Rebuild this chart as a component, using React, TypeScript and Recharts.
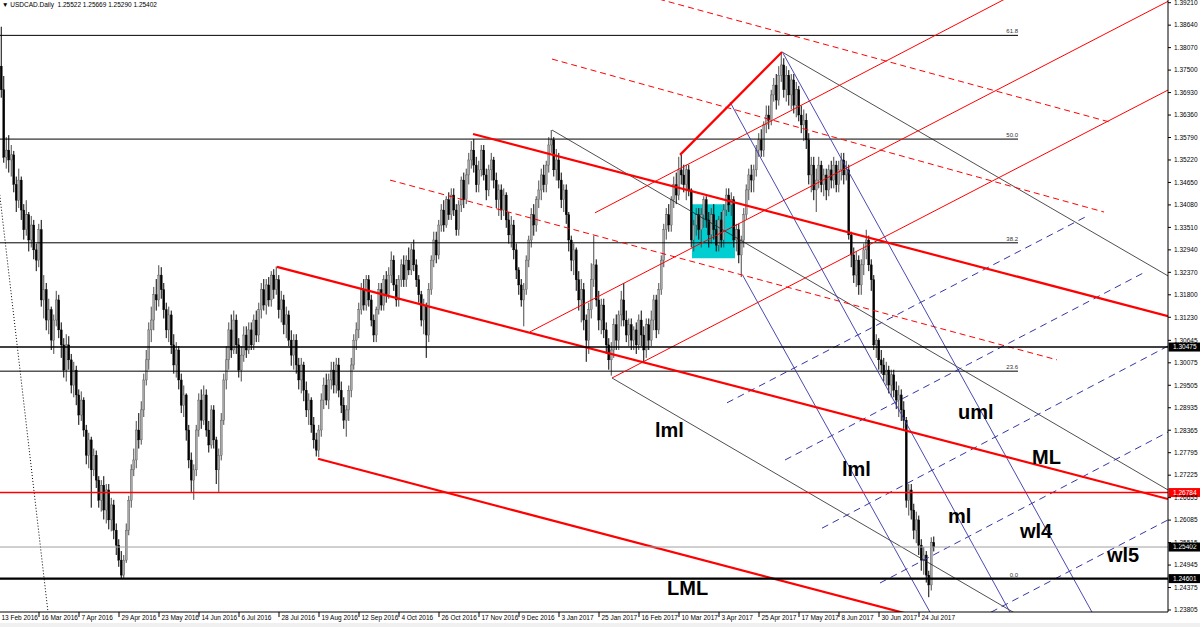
import React from "react";
import {
  ComposedChart,
  Bar,
  XAxis,
  YAxis,
  ReferenceLine,
  ReferenceArea,
  ReferenceDot,
} from "recharts";

// USDCAD daily candles (open = previous close)
const FIRST_OPEN = 1.379;

const closes = [
  1.376, 1.37, 1.3529, 1.3547, 1.3522, 1.3535, 1.346, 1.342, 1.3471, 1.3395,
  1.3345, 1.3383, 1.3319, 1.3357, 1.3294, 1.3268, 1.3345, 1.3167, 1.3193, 1.3116,
  1.3142, 1.3065, 1.3116, 1.3167, 1.3091, 1.3053, 1.2989, 1.3053, 1.3015, 1.2951,
  1.2989, 1.2926, 1.2875, 1.2913, 1.2837, 1.2773, 1.2812, 1.2736, 1.2773, 1.271,
  1.2659, 1.2697, 1.2634, 1.2685, 1.2609, 1.2647, 1.2583, 1.2545, 1.2507, 1.2469,
  1.2507, 1.2583, 1.2659, 1.2736, 1.2761, 1.2837, 1.2812, 1.2888, 1.2964, 1.3015,
  1.3091, 1.3116, 1.318, 1.3167, 1.323, 1.3193, 1.3142, 1.3091, 1.3129, 1.3053,
  1.3002, 1.304, 1.2964, 1.29, 1.2926, 1.2837, 1.2761, 1.271, 1.2736, 1.2837,
  1.2913, 1.2862, 1.2926, 1.2837, 1.2799, 1.2888, 1.2812, 1.2736, 1.2773, 1.2862,
  1.2964, 1.3015, 1.3091, 1.304, 1.3116, 1.3053, 1.2989, 1.3027, 1.3078, 1.304,
  1.3091, 1.3053, 1.3116, 1.3078, 1.3142, 1.3193, 1.3154, 1.3205, 1.3167, 1.323,
  1.3193, 1.3218, 1.3142, 1.3167, 1.3104, 1.3129, 1.3065, 1.3027, 1.3065, 1.3002,
  1.2964, 1.3002, 1.2938, 1.2888, 1.2913, 1.285, 1.2812, 1.2786, 1.2837, 1.2913,
  1.2951, 1.2913, 1.2964, 1.2989, 1.2951, 1.3002, 1.2938, 1.29, 1.2862, 1.2888,
  1.2938, 1.3002, 1.3065, 1.3091, 1.3142, 1.3193, 1.3154, 1.3218, 1.3167, 1.3116,
  1.3078, 1.3142, 1.3193, 1.3154, 1.3218, 1.318, 1.323, 1.3268, 1.3205, 1.3167,
  1.3218, 1.3256, 1.3218, 1.3268, 1.3243, 1.3294, 1.3256, 1.3218, 1.318, 1.3116,
  1.3154, 1.3078, 1.3193, 1.3268, 1.3319, 1.3281, 1.3357, 1.3395, 1.3357, 1.3421,
  1.3383, 1.3433, 1.3395, 1.3345, 1.3408, 1.3471, 1.3421, 1.3484, 1.3522, 1.3547,
  1.3509, 1.3459, 1.3497, 1.3547, 1.3484, 1.3446, 1.3497, 1.3522, 1.3471, 1.3421,
  1.3446, 1.3395, 1.3433, 1.337, 1.3332, 1.3357, 1.3294, 1.3243, 1.3205, 1.3167,
  1.3193, 1.3268, 1.3319, 1.3383, 1.3357, 1.3421, 1.3446, 1.3484, 1.3459, 1.3509,
  1.356, 1.3573, 1.3497, 1.3522, 1.3471, 1.3421, 1.3446, 1.3383, 1.3319, 1.3268,
  1.3294, 1.3218, 1.3167, 1.3193, 1.3116, 1.3065, 1.3142, 1.3218, 1.3256, 1.3167,
  1.3116, 1.3154, 1.3091, 1.3053, 1.3015, 1.304, 1.3104, 1.3065, 1.3129, 1.3167,
  1.3116, 1.3078, 1.3104, 1.3065, 1.3091, 1.3053, 1.3116, 1.3078, 1.304, 1.3104,
  1.3065, 1.3116, 1.3167, 1.3091, 1.3193, 1.3268, 1.3345, 1.3383, 1.3357, 1.3421,
  1.3459, 1.3433, 1.3497, 1.3484, 1.3459, 1.3497, 1.3446, 1.3319, 1.3357, 1.3383,
  1.3345, 1.3383, 1.3421, 1.337, 1.3332, 1.3383, 1.3345, 1.3306, 1.337, 1.3319,
  1.3395, 1.3433, 1.3408, 1.3421, 1.3319, 1.3345, 1.3281, 1.3319, 1.3383, 1.3446,
  1.3484, 1.3471, 1.3497, 1.3547, 1.3573, 1.3547, 1.3611, 1.3636, 1.3623, 1.3687,
  1.3712, 1.3674, 1.3737, 1.3763, 1.37, 1.3737, 1.3687, 1.3725, 1.3661, 1.37,
  1.3636, 1.3611, 1.3623, 1.3573, 1.3484, 1.3509, 1.3446, 1.3471, 1.3509, 1.3459,
  1.3484, 1.3446, 1.3497, 1.3471, 1.3509, 1.3459, 1.3497, 1.3522, 1.3484, 1.3497,
  1.3332, 1.3281, 1.323, 1.3268, 1.3205, 1.3256, 1.3294, 1.3319, 1.3256, 1.3218,
  1.3053, 1.3065, 1.3015, 1.3002, 1.2977, 1.2989, 1.2951, 1.2977, 1.2938, 1.2913,
  1.2926, 1.2888, 1.2862, 1.2659, 1.2685, 1.2634, 1.2583, 1.2609, 1.2545, 1.2507,
  1.252, 1.2469, 1.2444, 1.2552, 1.25402,
];

const highs = [
  1.383, 1.386, 1.3735, 1.358, 1.3585, 1.356, 1.3545, 1.348, 1.35, 1.348,
  1.341, 1.342, 1.339, 1.338, 1.337, 1.331, 1.336, 1.337, 1.323, 1.321,
  1.317, 1.315, 1.313, 1.319, 1.318, 1.311, 1.307, 1.308, 1.3075, 1.303,
  1.301, 1.3, 1.294, 1.2935, 1.292, 1.285, 1.283, 1.282, 1.279, 1.2785,
  1.272, 1.271, 1.272, 1.27, 1.27, 1.2665, 1.266, 1.26, 1.256, 1.253,
  1.252, 1.26, 1.267, 1.275, 1.279, 1.286, 1.288, 1.291, 1.298, 1.304,
  1.311, 1.315, 1.32, 1.322, 1.3255, 1.325, 1.321, 1.316, 1.315, 1.314,
  1.308, 1.306, 1.305, 1.298, 1.295, 1.293, 1.285, 1.278, 1.275, 1.285,
  1.293, 1.294, 1.295, 1.294, 1.286, 1.29, 1.29, 1.282, 1.279, 1.288,
  1.298, 1.305, 1.311, 1.313, 1.314, 1.313, 1.307, 1.305, 1.31, 1.31,
  1.311, 1.311, 1.313, 1.314, 1.316, 1.321, 1.322, 1.322, 1.3225, 1.324,
  1.3245, 1.3252, 1.323, 1.319, 1.318, 1.315, 1.314, 1.309, 1.308, 1.308,
  1.302, 1.302, 1.301, 1.296, 1.293, 1.292, 1.287, 1.283, 1.285, 1.293,
  1.297, 1.298, 1.298, 1.301, 1.301, 1.302, 1.302, 1.296, 1.292, 1.29,
  1.295, 1.302, 1.308, 1.311, 1.316, 1.321, 1.322, 1.323, 1.323, 1.318,
  1.313, 1.315, 1.321, 1.321, 1.323, 1.324, 1.325, 1.329, 1.328, 1.322,
  1.323, 1.327, 1.328, 1.328, 1.33, 1.331, 1.332, 1.327, 1.323, 1.319,
  1.317, 1.316, 1.321, 1.328, 1.334, 1.334, 1.337, 1.341, 1.342, 1.343,
  1.344, 1.345, 1.345, 1.341, 1.342, 1.348, 1.349, 1.35, 1.354, 1.357,
  1.3575, 1.353, 1.352, 1.356, 1.356, 1.35, 1.351, 1.354, 1.353, 1.349,
  1.346, 1.346, 1.345, 1.344, 1.339, 1.338, 1.337, 1.331, 1.325, 1.322,
  1.321, 1.328, 1.333, 1.34, 1.341, 1.343, 1.347, 1.35, 1.351, 1.352,
  1.358, 1.3598, 1.358, 1.355, 1.354, 1.349, 1.346, 1.346, 1.339, 1.333,
  1.331, 1.33, 1.324, 1.322, 1.321, 1.313, 1.316, 1.326, 1.333, 1.327,
  1.319, 1.317, 1.317, 1.311, 1.307, 1.306, 1.312, 1.313, 1.314, 1.319,
  1.321, 1.314, 1.312, 1.312, 1.31, 1.311, 1.313, 1.314, 1.31, 1.312,
  1.312, 1.314, 1.318, 1.318, 1.321, 1.328, 1.336, 1.34, 1.341, 1.343,
  1.348, 1.349, 1.353, 1.3535, 1.351, 1.351, 1.351, 1.345, 1.337, 1.34,
  1.34, 1.34, 1.343, 1.343, 1.339, 1.34, 1.341, 1.337, 1.338, 1.339,
  1.341, 1.345, 1.345, 1.344, 1.343, 1.336, 1.336, 1.333, 1.34, 1.346,
  1.35, 1.351, 1.351, 1.356, 1.359, 1.36, 1.362, 1.366, 1.366, 1.37,
  1.373, 1.374, 1.376, 1.3793, 1.378, 1.376, 1.375, 1.374, 1.374, 1.372,
  1.371, 1.366, 1.365, 1.364, 1.359, 1.353, 1.353, 1.35, 1.353, 1.352,
  1.35, 1.35, 1.351, 1.352, 1.353, 1.352, 1.352, 1.354, 1.354, 1.352,
  1.351, 1.334, 1.33, 1.329, 1.328, 1.327, 1.331, 1.3345, 1.333, 1.327,
  1.323, 1.308, 1.307, 1.304, 1.302, 1.301, 1.3, 1.299, 1.299, 1.296,
  1.295, 1.294, 1.291, 1.287, 1.27, 1.27, 1.265, 1.263, 1.262, 1.256,
  1.254, 1.253, 1.248, 1.2565, 1.25669,
];

const lows = [
  1.374, 1.368, 1.3515, 1.35, 1.349, 1.348, 1.344, 1.339, 1.34, 1.337,
  1.332, 1.333, 1.329, 1.33, 1.327, 1.324, 1.325, 1.315, 1.312, 1.309,
  1.308, 1.304, 1.303, 1.31, 1.307, 1.302, 1.297, 1.296, 1.299, 1.293,
  1.292, 1.29, 1.285, 1.286, 1.282, 1.275, 1.274, 1.264, 1.272, 1.269,
  1.264, 1.263, 1.261, 1.26, 1.2585, 1.258, 1.256, 1.252, 1.249, 1.2461,
  1.2462, 1.25, 1.257, 1.264, 1.272, 1.274, 1.279, 1.28, 1.287, 1.295,
  1.299, 1.306, 1.309, 1.314, 1.315, 1.317, 1.312, 1.307, 1.306, 1.303,
  1.298, 1.297, 1.294, 1.288, 1.287, 1.281, 1.274, 1.268, 1.266, 1.272,
  1.282, 1.284, 1.285, 1.282, 1.278, 1.279, 1.279, 1.27, 1.268, 1.276,
  1.285, 1.294, 1.299, 1.302, 1.303, 1.303, 1.297, 1.296, 1.301, 1.302,
  1.303, 1.304, 1.304, 1.306, 1.306, 1.312, 1.314, 1.313, 1.315, 1.315,
  1.317, 1.318, 1.312, 1.311, 1.308, 1.307, 1.305, 1.3, 1.299, 1.298,
  1.294, 1.293, 1.291, 1.287, 1.285, 1.283, 1.279, 1.277, 1.2768, 1.282,
  1.289, 1.29, 1.289, 1.294, 1.293, 1.293, 1.292, 1.288, 1.284, 1.282,
  1.286, 1.292, 1.299, 1.304, 1.307, 1.313, 1.314, 1.314, 1.315, 1.31,
  1.306, 1.306, 1.313, 1.314, 1.314, 1.316, 1.317, 1.321, 1.319, 1.315,
  1.315, 1.32, 1.32, 1.32, 1.323, 1.323, 1.324, 1.32, 1.316, 1.31,
  1.308, 1.302, 1.306, 1.318, 1.325, 1.326, 1.327, 1.334, 1.334, 1.335,
  1.337, 1.337, 1.338, 1.333, 1.333, 1.339, 1.34, 1.341, 1.346, 1.35,
  1.349, 1.344, 1.344, 1.348, 1.347, 1.342, 1.343, 1.347, 1.345, 1.34,
  1.338, 1.337, 1.338, 1.335, 1.331, 1.33, 1.327, 1.322, 1.318, 1.315,
  1.31, 1.318, 1.325, 1.33, 1.333, 1.334, 1.34, 1.342, 1.344, 1.344,
  1.349, 1.354, 1.348, 1.347, 1.345, 1.34, 1.339, 1.336, 1.329, 1.324,
  1.323, 1.319, 1.314, 1.311, 1.309, 1.301, 1.303, 1.312, 1.32, 1.315,
  1.309, 1.308, 1.307, 1.303, 1.299, 1.2975, 1.302, 1.304, 1.304, 1.31,
  1.31, 1.306, 1.305, 1.304, 1.304, 1.303, 1.304, 1.305, 1.301, 1.302,
  1.304, 1.305, 1.309, 1.307, 1.308, 1.318, 1.325, 1.332, 1.334, 1.334,
  1.34, 1.341, 1.342, 1.346, 1.344, 1.342, 1.343, 1.33, 1.329, 1.333,
  1.332, 1.33, 1.335, 1.335, 1.33, 1.331, 1.332, 1.329, 1.329, 1.33,
  1.33, 1.338, 1.339, 1.338, 1.33, 1.329, 1.326, 1.3225, 1.33, 1.337,
  1.342, 1.344, 1.344, 1.348, 1.353, 1.353, 1.353, 1.359, 1.36, 1.361,
  1.367, 1.365, 1.366, 1.372, 1.368, 1.367, 1.366, 1.365, 1.364, 1.363,
  1.362, 1.359, 1.357, 1.355, 1.346, 1.344, 1.342, 1.339, 1.345, 1.344,
  1.343, 1.342, 1.343, 1.345, 1.345, 1.344, 1.344, 1.347, 1.346, 1.347,
  1.332, 1.325, 1.321, 1.32, 1.318, 1.318, 1.323, 1.327, 1.324, 1.319,
  1.304, 1.302, 1.299, 1.298, 1.296, 1.295, 1.293, 1.292, 1.292, 1.289,
  1.287, 1.286, 1.284, 1.264, 1.262, 1.261, 1.256, 1.255, 1.252, 1.248,
  1.247, 1.245, 1.2413, 1.243, 1.2529,
];

// time axis: one label every 16 bars
const dateTicks = [
  0, 16, 32, 48, 64, 80, 96, 112, 128, 144, 160, 176, 192, 208, 224, 240, 256,
  272, 288, 304, 320, 336, 352, 368,
];
const dateLabels = [
  "13 Feb 2016", "16 Mar 2016", "7 Apr 2016", "29 Apr 2016", "23 May 2016",
  "14 Jun 2016", "6 Jul 2016", "28 Jul 2016", "19 Aug 2016", "12 Sep 2016",
  "4 Oct 2016", "26 Oct 2016", "17 Nov 2016", "9 Dec 2016", "3 Jan 2017",
  "25 Jan 2017", "16 Feb 2017", "10 Mar 2017", "3 Apr 2017", "25 Apr 2017",
  "17 May 2017", "8 Jun 2017", "30 Jun 2017", "24 Jul 2017",
];

const priceTicks = [
  1.3921, 1.3864, 1.3807, 1.375, 1.3693, 1.3636, 1.3579, 1.3522, 1.3465, 1.3408,
  1.3351, 1.3294, 1.3237, 1.318, 1.3123, 1.30645, 1.30075, 1.29505, 1.28935,
  1.28365, 1.27795, 1.27225, 1.26655, 1.26085, 1.25515, 1.24945, 1.24375, 1.23805,
];

// horizontal levels with a marker on the price scale
const levels = [
  { p: 1.30475, color: "#000000", bg: "#000000", w: 1.4 },
  { p: 1.26784, color: "#ff0000", bg: "#ff0000", w: 1.4 },
  { p: 1.25402, color: "#a0a0a0", bg: "#000000", w: 1 },
  { p: 1.24601, color: "#000000", bg: "#000000", w: 2.2 },
];

// fibonacci retracement
const fibNames = ["61.8", "50.0", "38.2", "23.6", "0.0"];
const fibPrices = [1.38381, 1.3575, 1.33119, 1.29863, 1.24601];
const fibEnd = 407.6;

// trend lines as [bar1, price1, bar2, price2]
const thickRed = [
  [189.6, 1.3588, 467.6, 1.3126],
  [111.2, 1.3251, 467.6, 1.2662],
  [127.6, 1.2764, 400.4, 1.2309],
  [272.4, 1.3535, 313.2, 1.3796],
];
const thinRed = [
  [238.4, 1.3388, 403.2, 1.3933],
  [212.4, 1.3086, 468.4, 1.3927],
  [245.2, 1.2969, 468.4, 1.3702],
];
const dashedRed = [
  [264.0, 1.393, 444.4, 1.3618],
  [221.2, 1.3778, 442.0, 1.339],
  [156.4, 1.3471, 423.2, 1.3015],
];
const thinBlack = [
  [313.2, 1.3796, 467.6, 1.3228],
  [221.2, 1.3598, 467.6, 1.2685],
  [245.2, 1.2969, 420.0, 1.2322],
];
const dottedBlack = [[-0.8, 1.3494, 19.6, 1.2375]];
const blueSolid = [
  [292.4, 1.3669, 404.4, 1.2375],
  [313.6, 1.3793, 437.2, 1.2375],
  [297.6, 1.3228, 372.4, 1.2375],
];
const blueDashed = [
  [291.2, 1.2906, 434.4, 1.3377],
  [314.4, 1.2761, 457.6, 1.3235],
  [329.2, 1.2588, 467.6, 1.305],
  [352.4, 1.2449, 467.6, 1.2832],
  [396.8, 1.2375, 467.6, 1.2609],
];

// the shaded consolidation box
const box = { x1: 277.2, x2: 294.4, y1: 1.3273, y2: 1.341 };

// annotations: text, bar, price at baseline
const notes: [string, number, number][] = [
  ["lml", 262.4, 1.2819],
  ["lml", 337.2, 1.272],
  ["uml", 383.6, 1.2865],
  ["ML", 413.2, 1.2751],
  ["ml", 379.6, 1.2601],
  ["wl4", 408.4, 1.2563],
  ["wl5", 443.2, 1.2502],
  ["LML", 267.2, 1.2418],
];

const bars = closes.map((c, i) => ({
  i,
  o: i === 0 ? FIRST_OPEN : closes[i - 1],
  h: highs[i],
  l: lows[i],
  c,
  range: [lows[i], highs[i]],
}));

const SMALL = "'Liberation Sans', Arial, sans-serif";

function Candle(props: any) {
  const { x, y, width, height, payload } = props;
  if (!payload || height == null || isNaN(y)) return null;
  const { o, h, l, c } = payload;
  const cx = x + width / 2;
  const span = h - l || 1e-9;
  const py = (p: number) => y + ((h - p) / span) * height;
  const top = py(Math.max(o, c));
  const bot = py(Math.min(o, c));
  const up = c >= o;
  const edge = up ? "#4a4a4a" : "#000000";
  return (
    <g>
      <line x1={cx} x2={cx} y1={y} y2={y + height} stroke={edge} strokeWidth={1} />
      <rect
        x={cx - 1}
        y={top}
        width={2}
        height={Math.max(bot - top, 0.8)}
        fill={up ? "#a6a6a6" : "#000000"}
        stroke={edge}
        strokeWidth={0.35}
      />
    </g>
  );
}

function PriceTick(props: any) {
  const { y, payload } = props;
  return (
    <g>
      <line x1={1168} x2={1171} y1={y} y2={y} stroke="#000" strokeWidth={1} />
      <text x={1174} y={y + 2.3} fontSize={6.5} fontFamily={SMALL} fill="#000">
        {payload.value.toFixed(5)}
      </text>
    </g>
  );
}

function DateTick(props: any) {
  const { x, payload } = props;
  const idx = dateTicks.indexOf(payload.value);
  return (
    <g>
      <line x1={x} x2={x} y1={612} y2={617} stroke="#000" strokeWidth={1} />
      <text x={x + 2.4} y={620} fontSize={6.5} fontFamily={SMALL} fill="#000">
        {dateLabels[idx]}
      </text>
    </g>
  );
}

function seg(s: number[]) {
  return [
    { x: s[0], y: s[1] },
    { x: s[2], y: s[3] },
  ] as any;
}

export default function App() {
  return (
    <div style={{ position: "absolute", left: 0, top: 0, width: 1200, height: 627, background: "#fff" }}>
      <ComposedChart
        width={1200}
        height={627}
        data={bars}
        margin={{ top: 0, right: 0, bottom: 0, left: 0 }}
      >
        <XAxis
          type="number"
          dataKey="i"
          domain={[0.4, 467.6]}
          allowDataOverflow
          ticks={dateTicks}
          interval={0}
          height={15}
          tickSize={0}
          tick={<DateTick />}
          axisLine={{ stroke: "#000", strokeWidth: 1 }}
        />
        <YAxis
          orientation="right"
          type="number"
          domain={[1.23754, 1.39278]}
          allowDataOverflow
          ticks={priceTicks}
          interval={0}
          width={32}
          tickSize={0}
          tick={<PriceTick />}
          axisLine={{ stroke: "#000", strokeWidth: 1 }}
        />

        <ReferenceArea
          x1={box.x1}
          x2={box.x2}
          y1={box.y1}
          y2={box.y2}
          fill="#00CED1"
          fillOpacity={1}
          stroke="none"
          ifOverflow="hidden"
        />

        {fibPrices.map((p, k) => (
          <ReferenceLine
            key={"fib" + k}
            segment={seg([0.4, p, fibEnd, p])}
            stroke="#000"
            strokeWidth={1}
            ifOverflow="hidden"
          />
        ))}
        {fibPrices.map((p, k) => (
          <ReferenceDot
            key={"fibt" + k}
            x={fibEnd}
            y={p}
            r={0}
            ifOverflow="visible"
            shape={(d: any) => (
              <text x={d.cx} y={d.cy - 2} textAnchor="end" fontSize={6} fontFamily={SMALL} fill="#333">
                {fibNames[k]}
              </text>
            )}
          />
        ))}

        {dottedBlack.map((s, k) => (
          <ReferenceLine key={"dot" + k} segment={seg(s)} stroke="#000" strokeWidth={1} strokeDasharray="1 2" ifOverflow="hidden" />
        ))}
        {thinBlack.map((s, k) => (
          <ReferenceLine key={"tb" + k} segment={seg(s)} stroke="#222" strokeWidth={0.8} ifOverflow="hidden" />
        ))}
        {dashedRed.map((s, k) => (
          <ReferenceLine key={"dr" + k} segment={seg(s)} stroke="#ff0000" strokeWidth={1} strokeDasharray="6 4" ifOverflow="hidden" />
        ))}
        {thinRed.map((s, k) => (
          <ReferenceLine key={"tr" + k} segment={seg(s)} stroke="#ff0000" strokeWidth={1} ifOverflow="hidden" />
        ))}
        {blueSolid.map((s, k) => (
          <ReferenceLine key={"bs" + k} segment={seg(s)} stroke="#3535a8" strokeWidth={0.9} ifOverflow="hidden" />
        ))}
        {blueDashed.map((s, k) => (
          <ReferenceLine key={"bd" + k} segment={seg(s)} stroke="#3535a8" strokeWidth={1} strokeDasharray="7 5" ifOverflow="hidden" />
        ))}
        {thickRed.map((s, k) => (
          <ReferenceLine key={"rk" + k} segment={seg(s)} stroke="#ff0000" strokeWidth={2.2} ifOverflow="hidden" />
        ))}

        <Bar dataKey="range" barSize={2} shape={(p: any) => <Candle {...p} />} isAnimationActive={false} />

        {levels.map((lv, k) => (
          <ReferenceLine
            key={"lv" + k}
            y={lv.p}
            stroke={lv.color}
            strokeWidth={lv.w}
            ifOverflow="visible"
            label={(lp: any) => {
              const yy = lp.viewBox.y;
              return (
                <g>
                  <rect x={1168.5} y={yy - 4.5} width={31.5} height={9} fill={lv.bg} />
                  <text x={1173} y={yy + 2.3} fontSize={6.5} fontFamily={SMALL} fill="#fff">
                    {lv.p.toFixed(5)}
                  </text>
                </g>
              );
            }}
          />
        ))}

        {notes.map((n, k) => (
          <ReferenceDot
            key={"note" + k}
            x={n[1]}
            y={n[2]}
            r={0}
            ifOverflow="visible"
            shape={(d: any) => (
              <text x={d.cx} y={d.cy} fontSize={20} fontWeight="bold" fontFamily="'Liberation Sans', Arial, sans-serif" fill="#000">
                {n[0]}
              </text>
            )}
          />
        ))}
      </ComposedChart>
      <div
        style={{
          position: "absolute",
          left: 2,
          top: 1,
          fontFamily: SMALL,
          fontSize: 6.5,
          color: "#000",
          whiteSpace: "pre",
        }}
      >
        {"▼ USDCAD.Daily  1.25522 1.25669 1.25290 1.25402"}
      </div>
      <div style={{ position: "absolute", left: 0, top: 623, width: 1200, height: 4, background: "#f0f0f0" }} />
    </div>
  );
}
